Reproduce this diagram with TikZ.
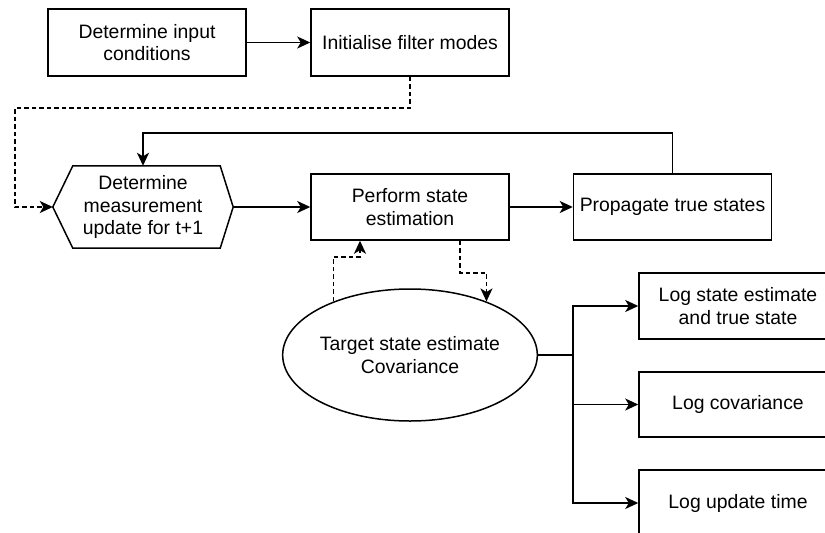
\documentclass[tikz,border=0pt]{standalone}
\usepackage{fontspec}
\setmainfont{Liberation Sans}
\usetikzlibrary{arrows.meta,shapes.geometric}
\begin{document}
\begin{tikzpicture}[x=1pt,y=-1pt,
  font=\fontsize{19.4}{22.5}\selectfont,
  every node/.style={inner sep=0pt, align=center},
  box/.style={draw, line width=1.5pt, minimum width=198pt, minimum height=67pt},
  oval/.style={draw, line width=1.5pt, ellipse, minimum width=198pt, minimum height=132pt},
  link/.style={line width=1.5pt, -{Stealth[length=13pt,width=12pt,inset=3.5pt]}},
  plain/.style={line width=1.5pt},
  dlink/.style={link, dash pattern=on 4.5pt off 3pt}]
\useasboundingbox (0,0) rectangle (825,533);
\clip (0,0) rectangle (825,533);

% process steps
\node[box] (inp)  at (147,42.5)   {Determine input\\conditions};
\node[box] (init) at (410,42.5)   {Initialise filter modes};
\node[minimum width=180pt, minimum height=82pt] (meas) at (143,207)
      {Determine\\measurement\\update for t+1};
\draw[line width=1.5pt] (meas.west) -- ([xshift=20pt]meas.north west)
  -- ([xshift=-13pt]meas.north east) -- (meas.east)
  -- ([xshift=-13pt]meas.south east) -- ([xshift=20pt]meas.south west) -- cycle;
\node[box, minimum height=66pt] (perf) at (410,207) {Perform state\\estimation};
\node[box, minimum height=66pt] (prop) at (672.5,207) {Propagate true states};
\node[oval] (est) at (410,355) {Target state estimate\\Covariance};

% logging outputs
\node[box, minimum height=66pt] (lga) at (738,306)   {Log state estimate\\and true state};
\node[box, minimum height=65pt] (lgb) at (738,404.5) {Log covariance};
\node[box, minimum height=66pt] (lgc) at (738,503)   {Log update time};

% routing points
\coordinate (dl) at (15,108);
\coordinate (fb) at (143,133);
\coordinate (br) at (573,355);

% connectors
\draw[link] (inp) -- (init);
\draw[dlink] (init.south) |- (dl) |- (meas.west);
\draw[link] (meas.east) -- (perf.west);
\draw[link] (perf) -- (prop);
\draw[link] (prop.north) |- (fb) -- (meas.north);
\draw[dlink] (est.145) |- ([xshift=-50pt,yshift=-16pt]perf.south)
  -- ([xshift=-50pt]perf.south);
\draw[dlink] ([xshift=50pt]perf.south) -- ++(0,32) -| (est.35);
\draw[plain] (est.east) -- (br);
\draw[link] (br) |- (lga.west);
\draw[link] (br) |- (lgb.west);
\draw[link] (br) |- (lgc.west);
\end{tikzpicture}
\end{document}
